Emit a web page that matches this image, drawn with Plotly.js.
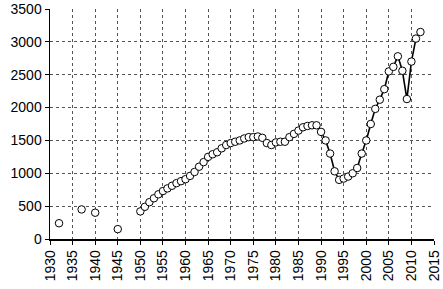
<!DOCTYPE html>
<html>
<head>
<meta charset="utf-8">
<script src="https://cdn.plot.ly/plotly-3.0.1.min.js"></script>
<style>html,body{margin:0;padding:0;background:#fff;}#chart{width:443px;height:289px;}</style>
</head>
<body>
<div id="chart"></div>
<script>
// Isolated early observations
var earlyYears = [1932, 1937, 1940, 1945];
var earlyValues = [240, 450, 400, 150];

// Continuous annual series
var years = [1950,1951,1952,1953,1954,1955,1956,1957,1958,1959,
             1960,1961,1962,1963,1964,1965,1966,1967,1968,1969,
             1970,1971,1972,1973,1974,1975,1976,1977,1978,1979,
             1980,1981,1982,1983,1984,1985,1986,1987,1988,1989,
             1990,1991,1992,1993,1994,1995,1996,1997,1998,1999,
             2000,2001,2002,2003,2004,2005,2006,2007,2008,2009,
             2010,2011,2012];
var values = [420,490,560,620,680,730,770,810,850,880,
              910,960,1020,1100,1170,1250,1290,1320,1380,1430,
              1460,1480,1500,1530,1550,1550,1560,1540,1460,1430,
              1470,1480,1480,1550,1600,1650,1700,1720,1730,1730,
              1630,1500,1300,1030,900,920,950,1000,1080,1300,
              1500,1750,1980,2120,2280,2550,2620,2780,2560,2130,
              2700,3050,3150];

var xTicks = [1930,1935,1940,1945,1950,1955,1960,1965,1970,1975,1980,1985,1990,1995,2000,2005,2010,2015];
var yTicks = [0,500,1000,1500,2000,2500,3000,3500];

var markerStyle = {symbol: 'circle', size: 7.5, color: '#ffffff', line: {color: '#000000', width: 1}};

var traces = [
  {x: earlyYears, y: earlyValues, type: 'scatter', mode: 'markers', marker: markerStyle, hoverinfo: 'none'},
  {x: years, y: values, type: 'scatter', mode: 'lines+markers', line: {color: '#000000', width: 1.6}, marker: markerStyle, hoverinfo: 'none'}
];

var font = {family: 'Liberation Sans, Arial, sans-serif', size: 14, color: '#000000'};

var layout = {
  width: 443, height: 289,
  margin: {l: 50, r: 9, t: 9, b: 50, pad: 0},
  paper_bgcolor: '#ffffff', plot_bgcolor: '#ffffff',
  showlegend: false,
  font: font,
  xaxis: {
    range: [1930, 2015], tickmode: 'array', tickvals: xTicks, ticktext: xTicks.map(String),
    tickangle: -90, ticks: 'outside', ticklen: 4, tickcolor: '#000', tickwidth: 1,
    showline: true, linecolor: '#000', linewidth: 1.5,
    showgrid: true, gridcolor: '#555', griddash: 'dot', gridwidth: 1,
    zeroline: false, tickfont: font, fixedrange: true
  },
  yaxis: {
    range: [0, 3500], tickmode: 'array', tickvals: yTicks, ticktext: yTicks.map(String),
    ticks: 'outside', ticklen: 4, tickcolor: '#000', tickwidth: 1,
    showline: true, linecolor: '#000', linewidth: 1.5,
    showgrid: true, gridcolor: '#555', griddash: 'dot', gridwidth: 1,
    zeroline: false, tickfont: font, fixedrange: true
  }
};

Plotly.newPlot('chart', traces, layout, {displayModeBar: false, staticPlot: true});
</script>
</body>
</html>
